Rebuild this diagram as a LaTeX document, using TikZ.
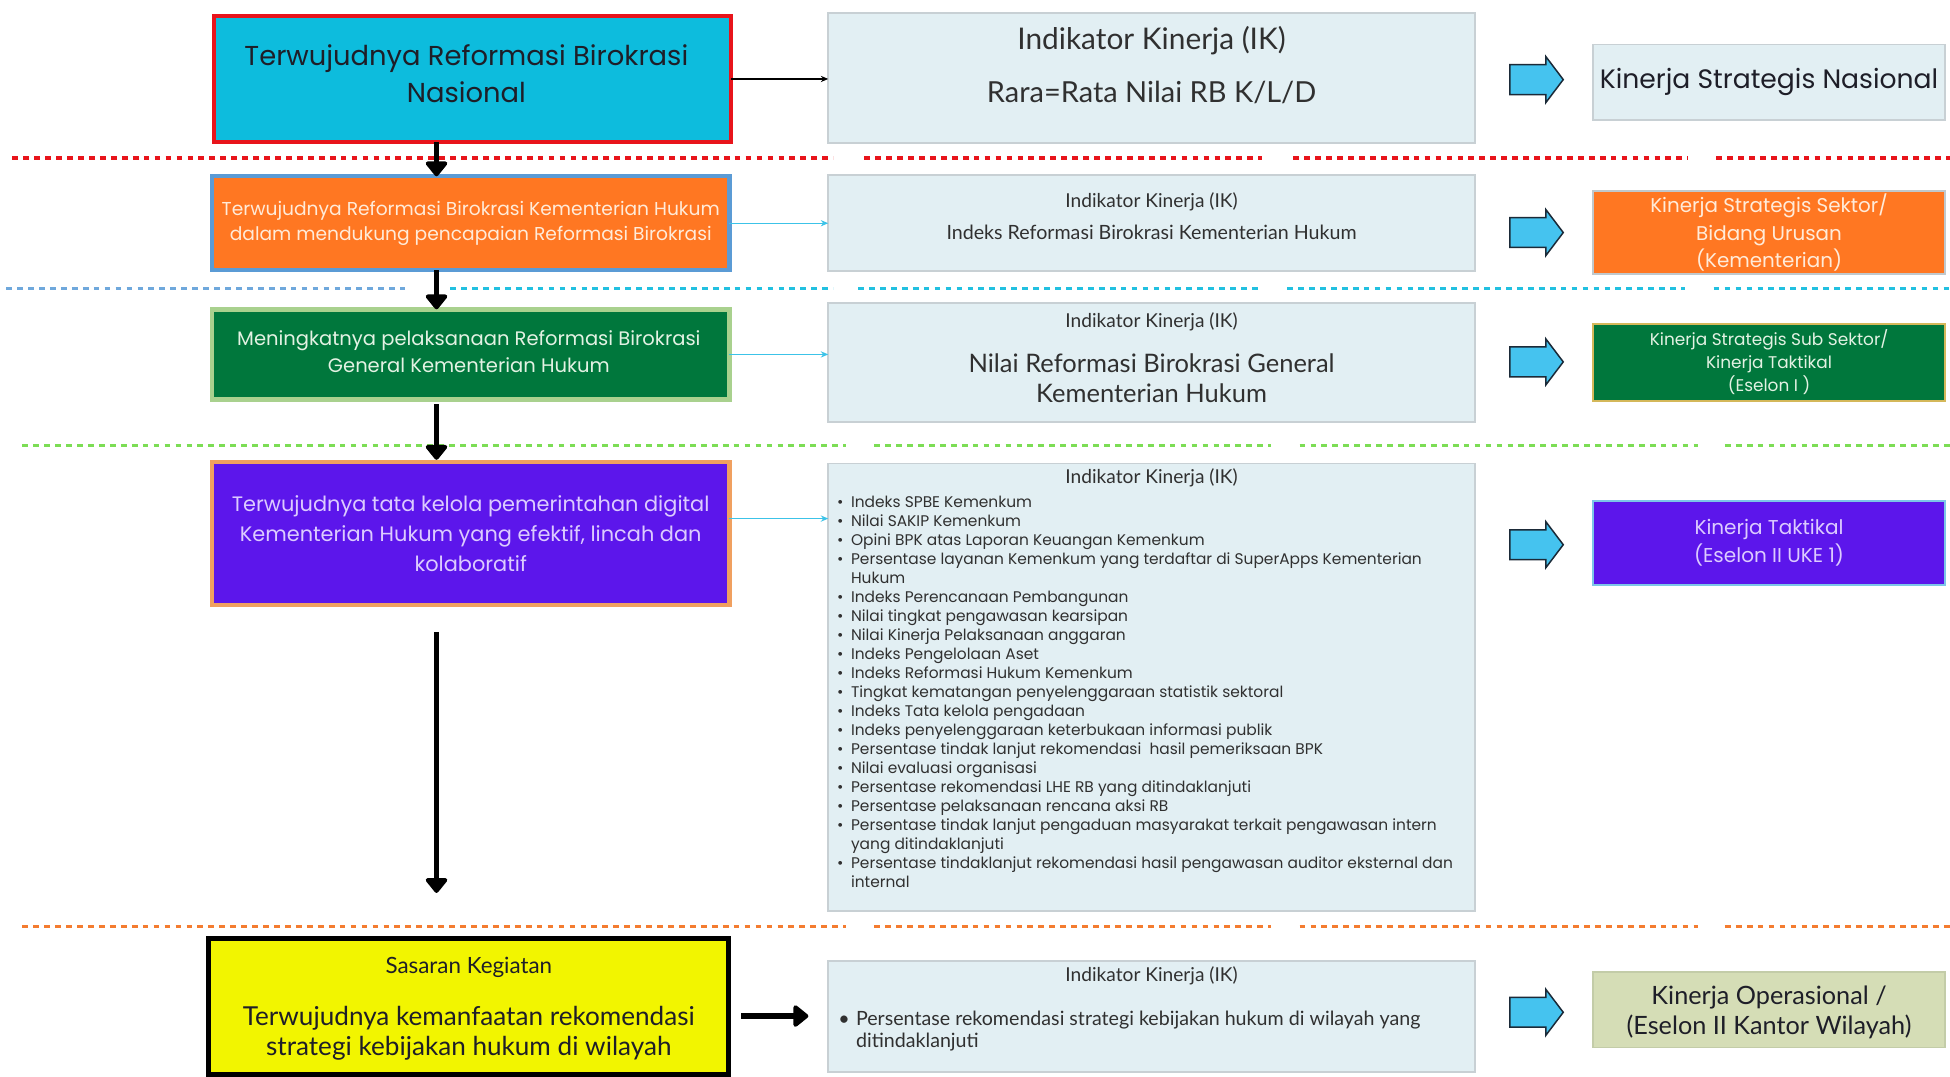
\documentclass[tikz,border=0pt]{standalone}
\usepackage{fontspec}
\setmainfont{Poppins}
\newfontfamily\narrowfont{Lato}
\usetikzlibrary{arrows.meta}
\definecolor{cyanfill}{HTML}{0DBCDD}
\definecolor{redline}{HTML}{E8141B}
\definecolor{orangefill}{HTML}{FF7722}
\definecolor{blueborder}{HTML}{5B9BD5}
\definecolor{greenfill}{HTML}{00773C}
\definecolor{lgreenborder}{HTML}{A9D18E}
\definecolor{purplefill}{HTML}{5C16EB}
\definecolor{orangeborder}{HTML}{F0A060}
\definecolor{yellowfill}{HTML}{F2F500}
\definecolor{ikfill}{HTML}{E2EFF3}
\definecolor{ikborder}{HTML}{C8D0D4}
\definecolor{arrowcyan}{HTML}{45C3EF}
\definecolor{arrowedge}{HTML}{1B2A38}
\definecolor{goldborder}{HTML}{D4B85A}
\definecolor{skyborder}{HTML}{7CC6E8}
\definecolor{olivefill}{HTML}{D5DDB6}
\definecolor{oliveborder}{HTML}{C3CCA8}
\definecolor{greyblueborder}{HTML}{C0C8CC}
\definecolor{lighttext}{HTML}{FFEBD9}
\definecolor{greentext}{HTML}{E3F2E3}
\definecolor{lavtext}{HTML}{DCCBFF}
\definecolor{darktext}{HTML}{1E1E28}
\definecolor{iktext}{HTML}{303030}
\definecolor{linkcyan}{HTML}{3CC3E8}
\definecolor{dotblue}{HTML}{6FA8DC}
\definecolor{dotcyan}{HTML}{22C0E0}
\definecolor{dotgreen}{HTML}{7CDD55}
\definecolor{dotorange}{HTML}{F47C30}
\newcommand{\fsz}[2]{\fontsize{#1}{#2}\selectfont}
\begin{document}
\begin{tikzpicture}[x=1pt,y=-1pt,
  lbox/.style={draw, line width=3.5pt, minimum width=416pt, inner sep=0pt, outer sep=0pt, align=center},
  ikbox/.style={draw=ikborder, fill=ikfill, line width=1.5pt, minimum width=520pt, inner sep=0pt, outer sep=0pt},
  rbox/.style={draw, line width=1.5pt, minimum width=283pt, inner sep=0pt, outer sep=0pt, align=center},
  thick arrow/.style={line width=4.5pt, -{Triangle[width=20pt,length=13pt,round]}},
  link/.style={line width=1pt, -{Stealth[length=6pt,width=5pt]}},
  sep line/.style={line width=2.6pt, dash pattern=on 4.6pt off 4.2pt},
  iktxt/.style={text=iktext, inner sep=0pt, align=center},
  iktitle/.style={iktxt, font=\narrowfont\fsz{15.4}{18}},
  blockarrow/.style={fill=arrowcyan, draw=arrowedge, line width=1.2pt, line join=miter},
]
\useasboundingbox[fill=white] (0,0) rectangle (1568,866);

% dotted separators
\draw[sep line, redline] (10,127) -- (670,127) (695,127) -- (1015,127) (1040,127) -- (1357,127) (1380,127) -- (1568,127);
\draw[sep line, dotblue] (5,232) -- (326,232);
\draw[sep line, dotcyan] (362,232) -- (670,232) (690,232) -- (1012,232) (1035,232) -- (1355,232) (1378,232) -- (1568,232);
\draw[sep line, dotgreen] (18,358) -- (680,358) (703,358) -- (1022,358) (1045,358) -- (1365,358) (1387,358) -- (1568,358);
\draw[sep line, dotorange] (18,745) -- (680,745) (703,745) -- (1022,745) (1045,745) -- (1365,745) (1387,745) -- (1568,745);

% left column
\node[lbox, draw=redline, fill=cyanfill, minimum height=101.5pt] (B1) at (380,63.5) {};
\node[iktxt, text=darktext, font=\fsz{22}{30}] (B1t) at (375,59.5) {Terwujudnya Reformasi Birokrasi\\Nasional};
\node[lbox, draw=blueborder, fill=orangefill, minimum height=75.5pt, text=lighttext, font=\fsz{15}{20}] (B2) at (378.5,179.5) {Terwujudnya Reformasi Birokrasi Kementerian Hukum\\dalam mendukung pencapaian Reformasi Birokrasi};
\node[lbox, draw=lgreenborder, fill=greenfill, minimum height=72.5pt] (B3) at (378.5,285) {};
\node[iktxt, text=greentext, font=\fsz{15.7}{22}] (B3t) at (377,283) {Meningkatnya pelaksanaan Reformasi Birokrasi\\General Kementerian Hukum};
\node[lbox, draw=orangeborder, fill=purplefill, minimum height=114.5pt, text=lavtext, font=\fsz{16.8}{24}] (B4) at (378.5,429) {Terwujudnya tata kelola pemerintahan digital\\Kementerian Hukum yang efektif, lincah dan\\kolaboratif};
\node[lbox, draw=black, fill=yellowfill, line width=4pt, minimum width=418pt, minimum height=109pt] (B5) at (377,809.5) {};
\node[iktxt, text=darktext, font=\narrowfont\fsz{18}{20}] (B5a) at (377,778) {Sasaran Kegiatan};
\node[iktxt, text=darktext, font=\narrowfont\fsz{21}{24}] (B5b) at (377,831) {Terwujudnya kemanfaatan rekomendasi\\strategi kebijakan hukum di wilayah};

% middle column
\node[ikbox, minimum height=104.5pt] (IK1) at (926,63) {};
\node[iktxt, font=\narrowfont\fsz{24}{26}] (IK1a) at (926,33) {Indikator Kinerja (IK)};
\node[iktxt, font=\narrowfont\fsz{23.3}{26}] (IK1b) at (926,74) {Rara=Rata Nilai RB K/L/D};

\node[ikbox, minimum height=77.5pt] (IK2) at (926,179.5) {};
\node[iktitle] (IK2a) at (926,162) {Indikator Kinerja (IK)};
\node[iktxt, font=\narrowfont\fsz{15.8}{18}] (IK2b) at (926,187) {Indeks Reformasi Birokrasi Kementerian Hukum};

\node[ikbox, minimum height=95.5pt] (IK3) at (926,291.5) {};
\node[iktitle] (IK3a) at (926,259) {Indikator Kinerja (IK)};
\node[iktxt, font=\narrowfont\fsz{20.5}{24}] (IK3b) at (926,304) {Nilai Reformasi Birokrasi General\\Kementerian Hukum};

\node[ikbox, minimum height=359.5pt] (IK4) at (926,552.5) {};
\node[iktitle] (IK4a) at (926,384) {Indikator Kinerja (IK)};
\node[anchor=north west, inner sep=0pt, text=iktext, font=\fsz{12.4}{15.25}] (IK4list) at (673,397.5) {%
\begin{tabular}{@{}c@{\hspace{6pt}}l@{}}
\textbullet & Indeks SPBE Kemenkum\\
\textbullet & Nilai SAKIP Kemenkum\\
\textbullet & Opini BPK atas Laporan Keuangan Kemenkum\\
\textbullet & Persentase layanan Kemenkum yang terdaftar di SuperApps Kementerian\\
 & Hukum\\
\textbullet & Indeks Perencanaan Pembangunan\\
\textbullet & Nilai tingkat pengawasan kearsipan\\
\textbullet & Nilai Kinerja Pelaksanaan anggaran\\
\textbullet & Indeks Pengelolaan Aset\\
\textbullet & Indeks Reformasi Hukum Kemenkum\\
\textbullet & Tingkat kematangan penyelenggaraan statistik sektoral\\
\textbullet & Indeks Tata kelola pengadaan\\
\textbullet & Indeks penyelenggaraan keterbukaan informasi publik\\
\textbullet & Persentase tindak lanjut rekomendasi\ \ hasil pemeriksaan BPK\\
\textbullet & Nilai evaluasi organisasi\\
\textbullet & Persentase rekomendasi LHE RB yang ditindaklanjuti\\
\textbullet & Persentase pelaksanaan rencana aksi RB\\
\textbullet & Persentase tindak lanjut pengaduan masyarakat terkait pengawasan intern\\
 & yang ditindaklanjuti\\
\textbullet & Persentase tindaklanjut rekomendasi hasil pengawasan auditor eksternal dan\\
 & internal
\end{tabular}};

\node[ikbox, minimum height=89.5pt] (IK5) at (926,817.5) {};
\node[iktitle] (IK5a) at (926,785) {Indikator Kinerja (IK)};
\node[anchor=north west, inner sep=0pt, text=iktext, font=\narrowfont\fsz{15.8}{18}] (IK5b) at (674,811.5) {%
\begin{tabular}{@{}c@{\hspace{5pt}}l@{}}
\textbullet & Persentase rekomendasi strategi kebijakan hukum di wilayah yang\\
 & ditindaklanjuti
\end{tabular}};

% right column
\node[rbox, draw=ikborder, fill=ikfill, minimum height=60.5pt, text=darktext, font=\fsz{21.4}{24}] (R1) at (1422.5,66) {Kinerja Strategis Nasional};
\node[rbox, draw=greyblueborder, fill=orangefill, minimum height=66.5pt, text=lighttext, font=\fsz{16}{22}] (R2) at (1422.5,187) {Kinerja Strategis Sektor/\\Bidang Urusan\\(Kementerian)};
\node[rbox, draw=goldborder, fill=greenfill, minimum height=61.5pt, text=greentext, font=\fsz{13.6}{18.5}] (R3) at (1422.5,291.5) {Kinerja Strategis Sub Sektor/\\Kinerja Taktikal\\(Eselon I )};
\node[rbox, draw=skyborder, fill=purplefill, minimum height=67.5pt, text=lavtext, font=\fsz{16.1}{22}] (R4) at (1422.5,436.5) {Kinerja Taktikal\\(Eselon II UKE 1)};
\node[rbox, draw=oliveborder, fill=olivefill, minimum height=60.5pt] (R5) at (1422.5,812) {};
\node[iktxt, text=darktext, font=\narrowfont\fsz{20.3}{24}] (R5t) at (1422.5,814) {Kinerja Operasional /\\(Eselon II Kantor Wilayah)};

% block arrows
\foreach \yy in {64,187,291,438,814}
  \draw[blockarrow] (1214,\yy) ++(0,-12) -- ++(29,0) -- ++(0,-6.5) -- ++(14,18.5) -- ++(-14,18.5) -- ++(0,-6.5) -- ++(-29,0) -- cycle;

% vertical arrows
\coordinate (ax) at (351,0);
\draw[thick arrow] (B1.south -| ax) -- (B2.north -| ax);
\draw[thick arrow] (B2.south -| ax) -- (B3.north -| ax);
\draw[thick arrow, shorten <=4pt, shorten >=2pt] (B3.south -| ax) -- (B4.north -| ax);
\coordinate (L1) at (351,508);
\coordinate (L2) at (351,718);
\draw[thick arrow] (L1) -- (L2);
\draw[thick arrow, shorten <=10pt, shorten >=16pt] ([yshift=-7.5pt]B5.east) -- ([yshift=-7.5pt]B5.east -| IK5.west);

% links
\draw[link, black] (B1.east) -- (B1.east -| IK1.west);
\draw[link, linkcyan] (B2.east) -- (B2.east -| IK2.west);
\draw[link, linkcyan] (B3.east) -- (B3.east -| IK3.west);
\draw[link, linkcyan] ([yshift=12pt]B4.east) -- ([yshift=12pt]B4.east -| IK4.west);
\end{tikzpicture}
\end{document}
